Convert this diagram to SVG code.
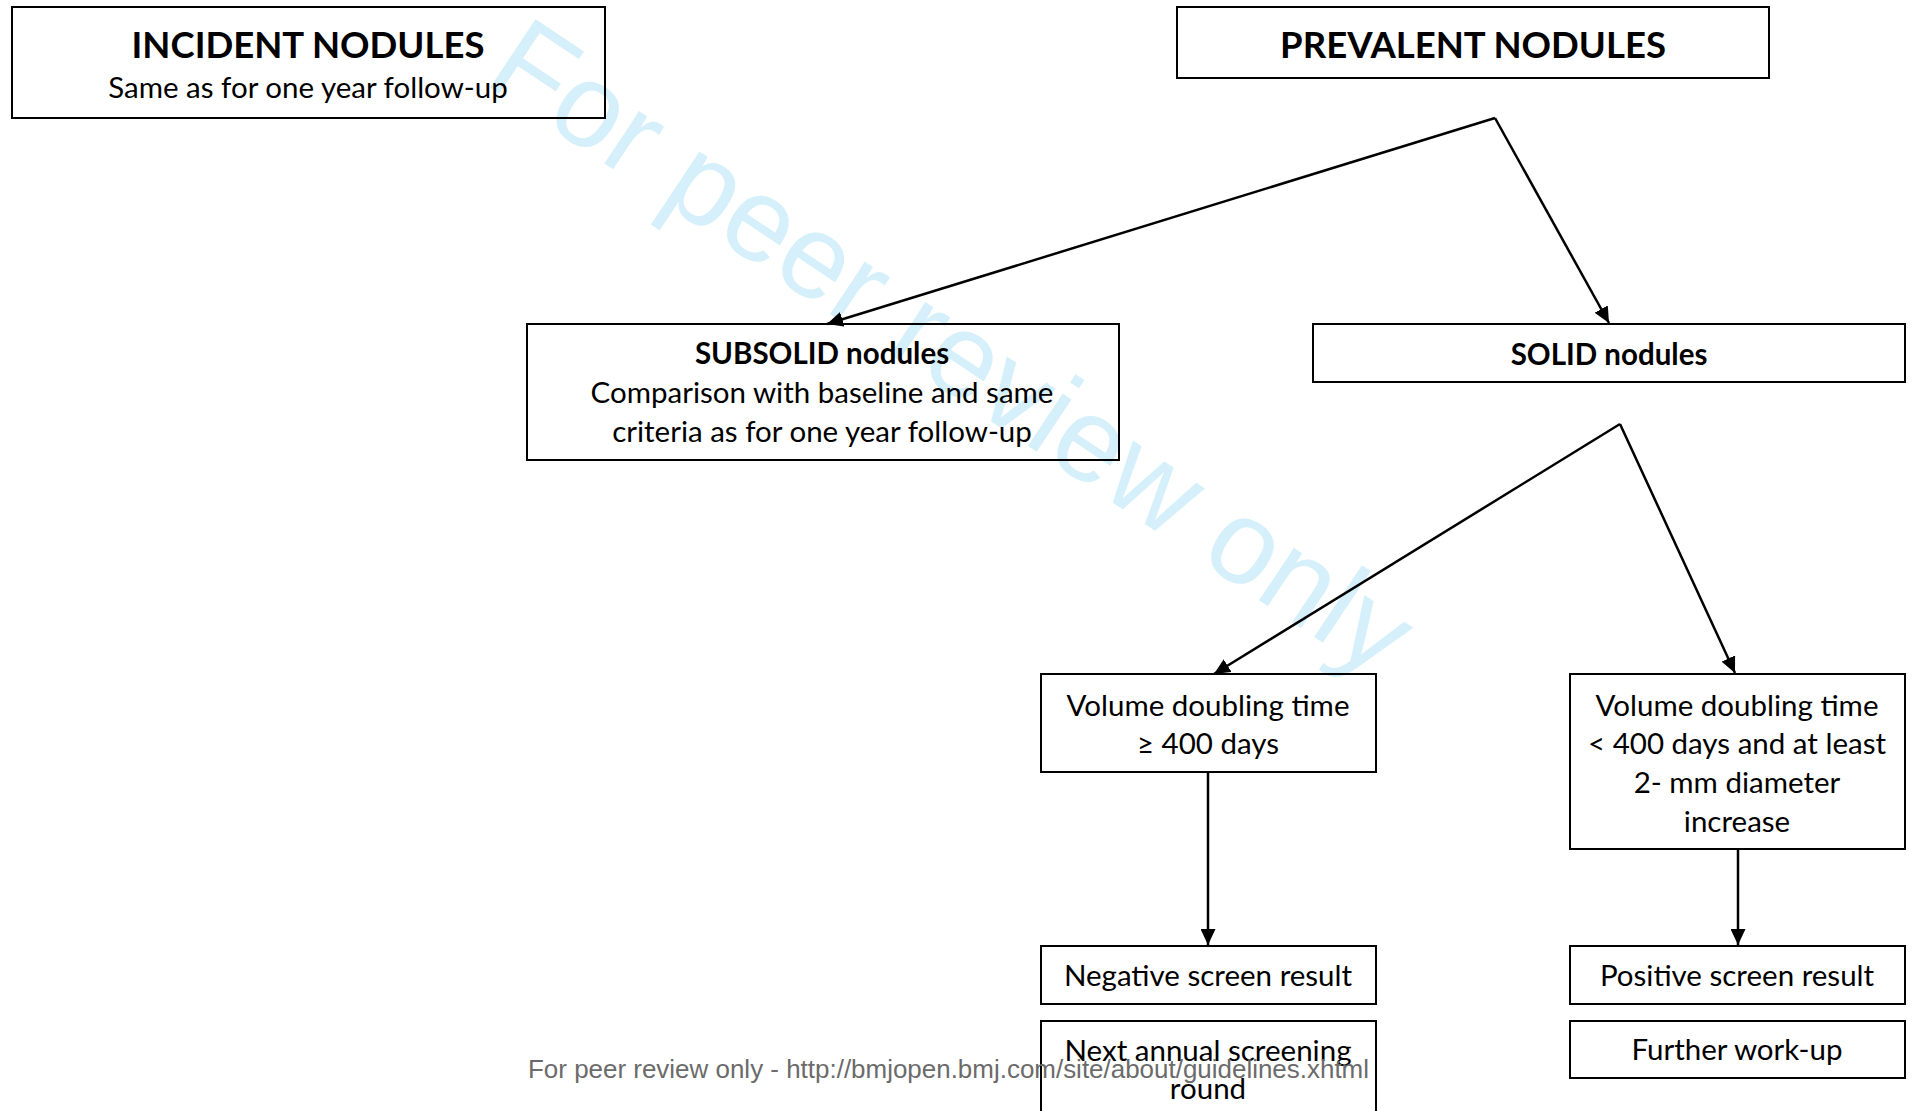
<svg xmlns="http://www.w3.org/2000/svg" width="1912" height="1111" viewBox="0 0 1912 1111">
  <defs>
    <marker id="arrow" markerUnits="userSpaceOnUse" markerWidth="17" markerHeight="15" refX="16" refY="7.5" orient="auto">
      <path d="M0,0 L16,7.5 L0,15 Z" fill="#000"/>
    </marker>
    <style>
      .box { fill: none; stroke: #000; stroke-width: 2; }
      .t { font-family: Lato, "Open Sans", sans-serif; font-size: 29.5px; fill: #000; text-anchor: middle; }
      .b { font-weight: bold; }
      .title { font-family: Lato, "Open Sans", sans-serif; font-size: 36.5px; font-weight: bold; fill: #000; text-anchor: middle; }
      .edge { fill: none; stroke: #000; stroke-width: 2.5; marker-end: url(#arrow); }
      .wm { font-family: "Liberation Sans", Arial, sans-serif; font-size: 119px; fill: #d5f0fb; }
      .foot { font-family: "Liberation Sans", Arial, sans-serif; font-size: 26px; fill: #6b6b6b; }
    </style>
  </defs>
  <rect width="1912" height="1111" fill="#fff"/>

  <!-- watermark -->
  <text class="wm" transform="translate(482,82) rotate(33.7)">For peer review only</text>

  <g id="incident">
    <rect class="box" x="12" y="7" width="593" height="111"/>
    <text class="title" x="308" y="58">INCIDENT NODULES</text>
    <text class="t" x="308" y="98">Same as for one year follow-up</text>
  </g>

  <g id="prevalent">
    <rect class="box" x="1177" y="7" width="592" height="71"/>
    <text class="title" x="1473" y="58">PREVALENT NODULES</text>
  </g>

  <g id="subsolid">
    <rect class="box" x="527" y="324" width="592" height="136"/>
    <text class="t b" x="822" y="364">SUBSOLID nodules</text>
    <text class="t" x="822" y="403">Comparison with baseline and same</text>
    <text class="t" x="822" y="442">criteria as for one year follow-up</text>
  </g>

  <g id="solid">
    <rect class="box" x="1313" y="324" width="592" height="58"/>
    <text class="t b" x="1609" y="365">SOLID nodules</text>
  </g>

  <g id="vdt-long">
    <rect class="box" x="1041" y="674" width="335" height="98"/>
    <text class="t" x="1208" y="716">Volume doubling time</text>
    <text class="t" x="1208" y="754">≥ 400 days</text>
  </g>

  <g id="vdt-short">
    <rect class="box" x="1570" y="674" width="335" height="175"/>
    <text class="t" x="1737" y="716">Volume doubling time</text>
    <text class="t" x="1737" y="754">&lt; 400 days and at least</text>
    <text class="t" x="1737" y="793">2- mm diameter</text>
    <text class="t" x="1737" y="832">increase</text>
  </g>

  <g id="negative">
    <rect class="box" x="1041" y="946" width="335" height="58"/>
    <text class="t" x="1208" y="986">Negative screen result</text>
  </g>

  <g id="next-round">
    <rect class="box" x="1041" y="1021" width="335" height="100"/>
    <text class="t" x="1208" y="1061">Next annual screening</text>
    <text class="t" x="1208" y="1099">round</text>
  </g>

  <g id="positive">
    <rect class="box" x="1570" y="946" width="335" height="58"/>
    <text class="t" x="1737" y="986">Positive screen result</text>
  </g>

  <g id="workup">
    <rect class="box" x="1570" y="1021" width="335" height="57"/>
    <text class="t" x="1737" y="1060">Further work-up</text>
  </g>

  <g id="connectors">
    <polyline class="edge" points="1495,118 827,324"/>
    <polyline class="edge" points="1495,118 1609,323"/>
    <polyline class="edge" points="1620,424 1214,674"/>
    <polyline class="edge" points="1620,424 1735,673"/>
    <line class="edge" x1="1208" y1="772" x2="1208" y2="945"/>
    <line class="edge" x1="1738" y1="849" x2="1738" y2="945"/>
  </g>

  <text class="foot" x="528" y="1078" textLength="841" lengthAdjust="spacingAndGlyphs">For peer review only - http://bmjopen.bmj.com/site/about/guidelines.xhtml</text>
</svg>
